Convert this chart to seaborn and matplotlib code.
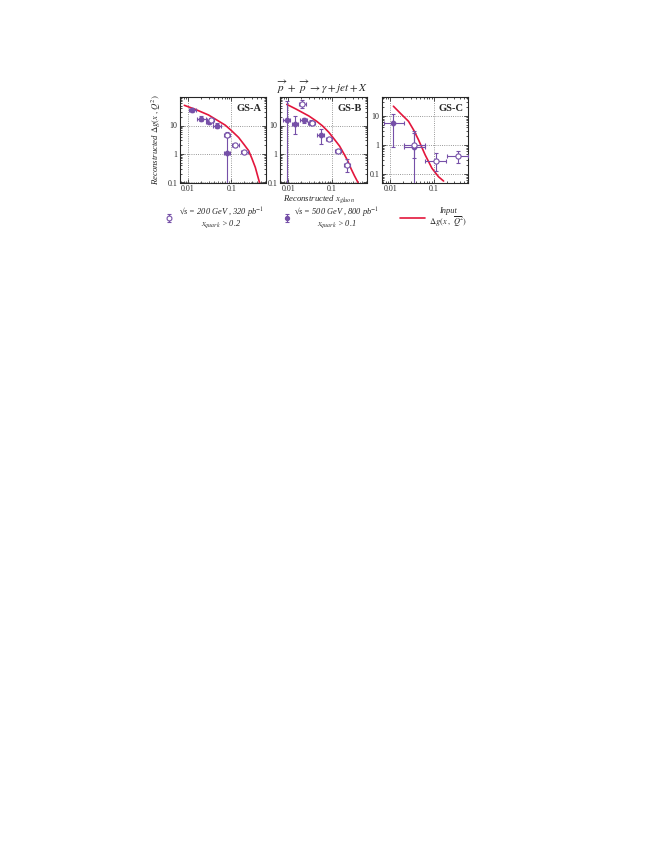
import numpy as np
import seaborn as sns
import matplotlib.pyplot as plt
from matplotlib.ticker import LogLocator, NullFormatter

sns.set_style('ticks')
plt.rcParams['font.family'] = ['Liberation Serif', 'DejaVu Serif']
plt.rcParams['mathtext.fontset'] = 'stix'

purple = '#7650a8'
red = '#e3163c'

# Input delta g curves
a_cx = [0.0082, 0.0146, 0.0297, 0.05, 0.0724, 0.1, 0.148, 0.2, 0.253, 0.3, 0.36, 0.4, 0.45]
a_cy = [51, 37, 23.4, 14.5, 10.3, 6.7, 3.8, 2.1, 1.3, 0.7, 0.34, 0.19, 0.1]
b_cx = [0.0093, 0.015, 0.0297, 0.045, 0.061, 0.085, 0.113, 0.15, 0.19, 0.23, 0.276, 0.33, 0.396]
b_cy = [55, 38, 21.6, 14, 9.7, 5.8, 3.33, 1.9, 1.0, 0.58, 0.3, 0.17, 0.1]
c_cx = [0.0119, 0.0175, 0.0265, 0.035, 0.045, 0.064, 0.092, 0.13, 0.17]
c_cy = [21.6, 12, 6.5, 3.2, 1.49, 0.45, 0.154, 0.079, 0.056]

# GS-A, 500 GeV (filled)
a_f_x = [0.0125, 0.020, 0.031, 0.046, 0.080]
a_f_y = [34, 17.5, 13, 10, 1.1]
a_f_xlo = [0.0105, 0.016, 0.026, 0.038, 0.068]
a_f_xhi = [0.015, 0.026, 0.038, 0.058, 0.095]
a_f_ylo = [29, 14.5, 11, 8.5, 0.01]
a_f_yhi = [40, 21, 16, 12, 5.5]
# GS-A, 200 GeV (open)
a_o_x = [0.034, 0.080, 0.125, 0.20]
a_o_y = [15.5, 4.8, 2.0, 1.15]
a_o_xlo = [0.028, 0.068, 0.105, 0.17]
a_o_xhi = [0.040, 0.094, 0.15, 0.25]
a_o_ylo = [13, 3.8, 1.7, 1.0]
a_o_yhi = [18.5, 6.0, 2.3, 1.3]

# GS-B, 500 GeV (filled)
b_f_x = [0.0092, 0.0145, 0.0225, 0.034, 0.055]
b_f_y = [16, 11.6, 15, 12.5, 4.7]
b_f_xlo = [0.0075, 0.012, 0.019, 0.028, 0.045]
b_f_xhi = [0.011, 0.017, 0.027, 0.040, 0.067]
b_f_ylo = [0.01, 5.0, 12, 10.5, 2.3]
b_f_yhi = [70, 21, 19, 15, 7.5]
# GS-B, 200 GeV (open)
b_o_x = [0.021, 0.035, 0.086, 0.135, 0.22]
b_o_y = [57, 12, 3.3, 1.25, 0.42]
b_o_xlo = [0.018, 0.030, 0.075, 0.115, 0.19]
b_o_xhi = [0.025, 0.042, 0.10, 0.16, 0.26]
b_o_ylo = [42, 10.5, 2.9, 1.1, 0.23]
b_o_yhi = [78, 13.5, 3.7, 1.45, 0.67]

# GS-C, 500 GeV (filled)
c_f_x = [0.0119, 0.036]
c_f_y = [5.8, 0.82]
c_f_xlo = [0.0073, 0.021]
c_f_xhi = [0.0214, 0.063]
c_f_ylo = [0.87, 0.01]
c_f_yhi = [11.7, 2.5]
# GS-C, 200 GeV (open)
c_o_x = [0.036, 0.114, 0.366]
c_o_y = [1.0, 0.28, 0.41]
c_o_xlo = [0.0214, 0.0645, 0.20]
c_o_xhi = [0.0645, 0.197, 0.63]
c_o_ylo = [0.35, 0.12, 0.23]
c_o_yhi = [2.9, 0.52, 0.63]


def draw_points(ax, x, y, xlo, xhi, ylo, yhi, filled):
    x = np.array(x); y = np.array(y)
    xerr = [x - np.array(xlo), np.array(xhi) - x]
    yerr = [y - np.array(ylo), np.array(yhi) - y]
    ax.errorbar(x, y, xerr=xerr, yerr=yerr, fmt='none', ecolor=purple,
                elinewidth=0.8, capsize=1.6, capthick=0.8, zorder=3)
    sns.scatterplot(x=x, y=y, ax=ax, marker='o', s=11 if filled else 14,
                    color=purple if filled else 'white', edgecolor=purple,
                    linewidth=0.8, zorder=4, legend=False)


def style_axis(ax, ylim, tag):
    ax.set_xscale('log')
    ax.set_yscale('log')
    ax.set_xlim(0.0065, 0.62)
    ax.set_ylim(*ylim)
    ax.set_xticks([0.01, 0.1], ['0.01', '0.1'])
    ax.set_yticks([0.1, 1, 10], ['0.1', '1', '10'])
    ax.xaxis.set_minor_locator(LogLocator(base=10, subs=np.arange(2, 10)))
    ax.yaxis.set_minor_locator(LogLocator(base=10, subs=np.arange(2, 10)))
    ax.xaxis.set_minor_formatter(NullFormatter())
    ax.yaxis.set_minor_formatter(NullFormatter())
    ax.tick_params(which='both', direction='in', top=True, right=True,
                   labelsize=5.8, pad=2, width=0.6, color='#333333')
    ax.tick_params(which='major', length=3)
    ax.tick_params(which='minor', length=1.5)
    ax.grid(True, which='major', ls=':', color='#777777', lw=0.6)
    for s in ax.spines.values():
        s.set_linewidth(0.8)
    ax.text(0.95, 0.87, tag, transform=ax.transAxes, ha='right', va='center',
            fontsize=7.5, fontweight='bold')
    ax.set_xlabel('')
    ax.set_ylabel('')


fig = plt.figure(figsize=(6.62, 8.57), dpi=100)
W, H = 662, 857


def add_axes(x0, x1, y0, y1):
    return fig.add_axes([x0 / W, 1 - y1 / H, (x1 - x0) / W, (y1 - y0) / H])


axA = add_axes(180, 265.5, 97, 182.5)
axB = add_axes(280, 366.5, 97, 182.5)
axC = add_axes(382, 468, 97, 182.5)

for ax, cx, cy in [(axA, a_cx, a_cy), (axB, b_cx, b_cy), (axC, c_cx, c_cy)]:
    ax.set_xscale('log')
    ax.set_yscale('log')
    sns.lineplot(x=cx, y=cy, ax=ax, color=red, lw=1.2, sort=False,
                 estimator=None, zorder=2)

draw_points(axA, a_f_x, a_f_y, a_f_xlo, a_f_xhi, a_f_ylo, a_f_yhi, True)
draw_points(axA, a_o_x, a_o_y, a_o_xlo, a_o_xhi, a_o_ylo, a_o_yhi, False)
draw_points(axB, b_f_x, b_f_y, b_f_xlo, b_f_xhi, b_f_ylo, b_f_yhi, True)
draw_points(axB, b_o_x, b_o_y, b_o_xlo, b_o_xhi, b_o_ylo, b_o_yhi, False)
draw_points(axC, c_f_x, c_f_y, c_f_xlo, c_f_xhi, c_f_ylo, c_f_yhi, True)
draw_points(axC, c_o_x, c_o_y, c_o_xlo, c_o_xhi, c_o_ylo, c_o_yhi, False)

style_axis(axA, (0.1, 100), 'GS-A')
style_axis(axB, (0.1, 100), 'GS-B')
style_axis(axC, (0.05, 45), 'GS-C')

axA.set_ylabel(r'Reconstructed $\Delta g(x\ ,Q^2)$', fontsize=6.3, style='italic')
axA.yaxis.set_label_coords(-0.2, 0.5)
axB.set_xlabel(r'Reconstructed $x_{gluon}$', fontsize=6.3, style='italic')
axB.xaxis.set_label_coords(0.45, -0.13)

fig.text(323 / W, 1 - 87 / H,
         r'$\overrightarrow{p}\ +\ \overrightarrow{p}\ \rightarrow \gamma + jet + X$',
         ha='center', va='center', fontsize=8)

# legend keys come from a hidden helper axes
hax = fig.add_axes([0, 0, 0.01, 0.01])
hax.set_visible(False)
h_open = hax.errorbar([1], [1], yerr=[0.5], fmt='o', mfc='white', mec=purple, color=purple,
                      ms=3.5, mew=0.8, capsize=1.6, elinewidth=0.8)
h_fill = hax.errorbar([1], [1], yerr=[0.5], fmt='o', mfc=purple, mec=purple, color=purple,
                      ms=3, mew=0.8, capsize=1.6, elinewidth=0.8)
h_line, = hax.plot([0, 1], [0, 1], color=red, lw=1.2)

prop = {'family': 'Liberation Serif', 'style': 'italic', 'size': 6}
lab1 = '√s = 200 GeV , 320 pb$^{-1}$' + '\n' + r'$x_{quark}$ > 0.2'
lab2 = '√s = 500 GeV , 800 pb$^{-1}$' + '\n' + r'$x_{quark}$ > 0.1'
lab3 = 'Input\n' + r'$\Delta g(x\ ,\ \overline{Q}^2)$'
for h, lab, x0, hl, tp in [(h_open, lab1, 164, 1.2, 0.6),
                            (h_fill, lab2, 282, 1.2, 0.3),
                            (h_line, lab3, 400, 3.0, 0.5)]:
    leg = fig.legend([h], [lab], loc='center left', bbox_to_anchor=(x0 / W, 1 - 218 / H),
                     frameon=False, prop=prop, handlelength=hl, handletextpad=tp,
                     borderpad=0, borderaxespad=0)
    for t in leg.get_texts():
        t.set_multialignment('center')
        t.set_linespacing(0.85)

plt.savefig('out.png', dpi=100)
